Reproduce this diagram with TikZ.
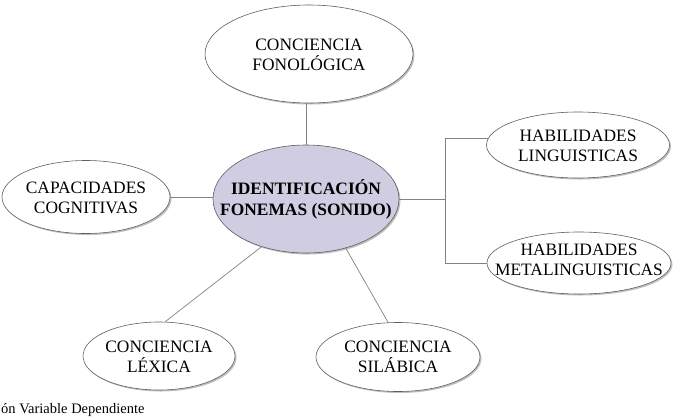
\documentclass[tikz,border=0pt]{standalone}
\usepackage{fontspec}
\setmainfont{Liberation Serif}
\usetikzlibrary{shapes.geometric,shadows,calc}
\definecolor{lav}{RGB}{208,204,226}
\definecolor{edge}{RGB}{95,95,95}
\definecolor{conn}{RGB}{130,130,130}
\begin{document}
\begin{tikzpicture}[x=1pt,y=-1pt,
  bub/.style={ellipse,draw=edge,line width=0.6pt,fill=white,inner sep=0pt,
    drop shadow={shadow xshift=1.5pt,shadow yshift=-1.5pt,fill=black,opacity=0.25}},
  txt/.style={align=center,inner sep=0pt,font=\fontsize{17.4}{19.5}\selectfont},
  conline/.style={draw=conn,line width=0.7pt}]
\useasboundingbox (0,0) rectangle (677,416);
\node[bub,fill=lav,minimum width=186pt,minimum height=108pt] (center) at (306,199) {};
\node[txt,font=\bfseries\fontsize{17.4}{21}\selectfont] (centert) at (306,199) {IDENTIFICACIÓN\\FONEMAS (SONIDO)};
\node[bub,minimum width=208pt,minimum height=98pt] (fon) at (309,54) {};
\node[txt] (font) at (309,55) {CONCIENCIA\\FONOLÓGICA};
\node[bub,minimum width=168pt,minimum height=73pt] (cap) at (86,197) {};
\node[txt] (capt) at (86,198) {CAPACIDADES\\COGNITIVAS};
\node[bub,minimum width=183pt,minimum height=66pt] (hl) at (578,145) {};
\node[txt] (hlt) at (578,146) {HABILIDADES\\LINGUISTICAS};
\node[bub,minimum width=184pt,minimum height=62pt] (hm) at (579,263) {};
\node[txt] (hmt) at (579,260) {HABILIDADES\\METALINGUISTICAS};
\node[bub,minimum width=152pt,minimum height=68pt] (lex) at (159,356) {};
\node[txt] (lext) at (159,357) {CONCIENCIA\\LÉXICA};
\node[bub,minimum width=164pt,minimum height=69pt] (sil) at (398,357) {};
\node[txt] (silt) at (398,357) {CONCIENCIA\\SILÁBICA};
\node[anchor=base west,inner sep=0pt,font=\fontsize{14.5}{16}\selectfont] (capn) at (1,413) {ón Variable Dependiente};
\coordinate (br) at ($(center.east)+(46,0)$);
\path[conline] (center.north) -- (center.north |- fon.south);
\path[conline] (cap.east) -- (cap.east -| center.west);
\path[conline] (center.east) -- (br);
\path[conline] (br) |- ($(hl.west)+(2,-7)$);
\path[conline] (br) |- (hm.west);
\path[conline] (lex.80) -- (center.227);
\path[conline] (sil.106) -- (center.309);
\end{tikzpicture}
\end{document}
